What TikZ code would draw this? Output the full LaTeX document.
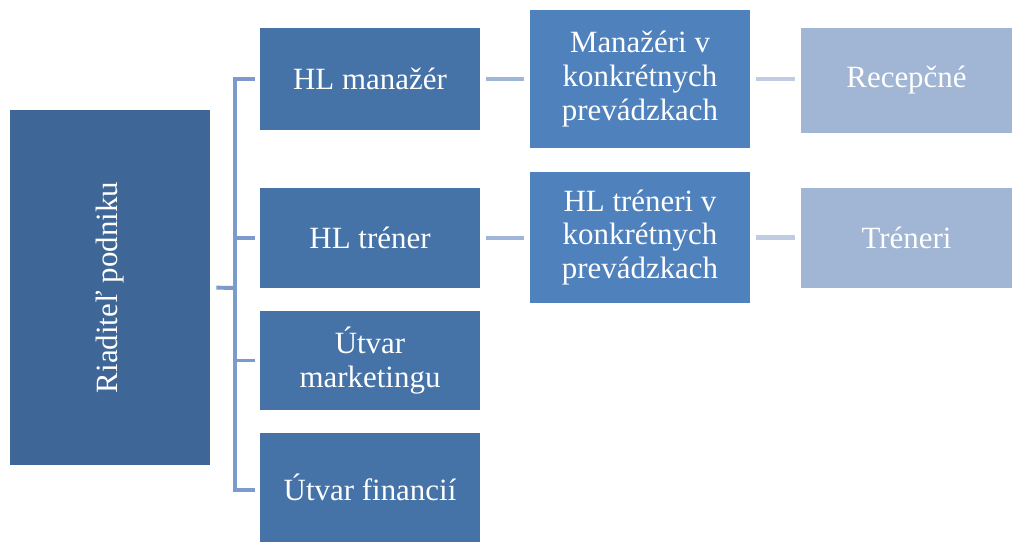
\documentclass[tikz,border=0pt]{standalone}
\usepackage{fontspec}
\setmainfont{Liberation Serif}
\usepackage{xcolor}
\definecolor{rootblue}{HTML}{3E6696}
\definecolor{headblue}{HTML}{4572A7}
\definecolor{siteblue}{HTML}{4F81BD}
\definecolor{staffblue}{HTML}{A1B5D5}
\definecolor{busblue}{HTML}{7A9BCB}
\definecolor{linkblue}{HTML}{A0B6D8}
\definecolor{linkpale}{HTML}{BFCCE2}

\begin{document}
\begin{tikzpicture}[x=0.025cm,y=-0.025cm,
  unit/.style={fill=#1, text=white, inner sep=0pt, align=center,
    font=\fontsize{22}{24}\selectfont},
  bus/.style={draw=busblue, line width=2.8pt},
  link/.style={draw=#1, line width=3pt, shorten <=0.13cm, shorten >=0.13cm}]
\useasboundingbox (0,0) rectangle (1012,542);

% root
\node[unit=rootblue, rotate=90, minimum width=8.875cm, minimum height=5cm] (boss) at (110,287.5) {Riaditeľ podniku};

% first level
\node[unit=headblue, minimum width=5.5cm, minimum height=2.55cm] (mgr) at (370,79) {HL manažér};
\node[unit=headblue, minimum width=5.5cm, minimum height=2.5cm] (coach) at (370,238) {HL tréner};
\node[unit=headblue, minimum width=5.5cm, minimum height=2.475cm] (mkt) at (370,360.5) {Útvar\\marketingu};
\node[unit=headblue, minimum width=5.5cm, minimum height=2.725cm] (fin) at (370,487.5) {Útvar financií};

% second level
\node[unit=siteblue, minimum width=5.5cm, minimum height=3.45cm] (mgrsite) at (640,79) {Manažéri v\\konkrétnych\\prevádzkach};
\node[unit=siteblue, minimum width=5.5cm, minimum height=3.275cm] (coachsite) at (640,237.5) {HL tréneri v\\konkrétnych\\prevádzkach};

% third level
\node[unit=staffblue, minimum width=5.275cm, minimum height=2.625cm] (desk) at (906.5,80.5) {Recepčné};
\node[unit=staffblue, minimum width=5.275cm, minimum height=2.5cm] (coaches) at (906.5,238) {Tréneri};

% bracket
\coordinate (split) at (235,288);
\draw[bus, shorten <=0.15cm] (boss.south) -- (split);
\draw[bus, shorten >=0.125cm] (split) |- (mgr.west);
\draw[bus, shorten >=0.125cm] (split) |- (coach.west);
\draw[bus, shorten >=0.125cm] (split) |- (mkt.west);
\draw[bus, shorten >=0.125cm] (split) |- ([yshift=-0.06cm]fin.west);

% links
\draw[link=linkblue] (mgr.east) -- (mgrsite.west);
\draw[link=linkblue] (coach.east) -- (coachsite.west |- coach.east);
\draw[link=linkpale, shorten <=0.15cm, shorten >=0.15cm] (mgrsite.east) -- (desk.west |- mgrsite.east);
\draw[link=linkpale, shorten <=0.15cm, shorten >=0.15cm] (coachsite.east) -- (coaches.west |- coachsite.east);
\end{tikzpicture}
\end{document}
